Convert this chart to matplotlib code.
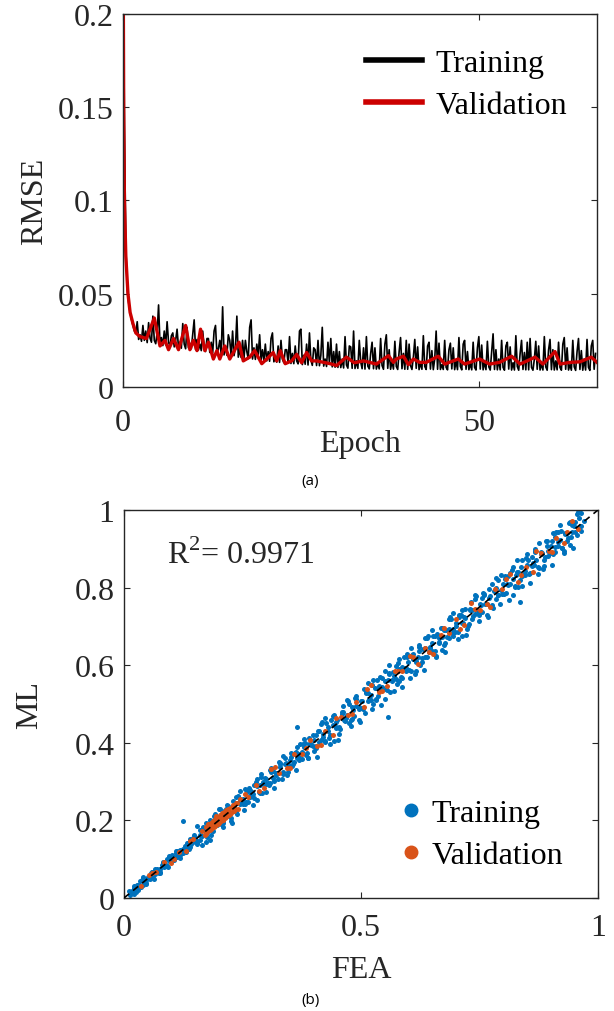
import numpy as np
import matplotlib
matplotlib.use('Agg')
import matplotlib.pyplot as plt
from matplotlib.lines import Line2D
import matplotlib.ticker as ticker

plt.rcParams['font.family'] = ['Liberation Serif', 'DejaVu Serif']
plt.rcParams['mathtext.fontset'] = 'custom'
plt.rcParams['mathtext.rm'] = 'Liberation Serif'

# ---------------- (a) training history ----------------
iters_per_epoch = 5
# training RMSE per iteration, in units of 1e-4 (one row per epoch)
train_rmse_e4 = [
    2600, 1400, 760, 520, 450,
    400, 360, 330, 300, 290,
    350, 255, 280, 245, 330,
    250, 300, 238, 345, 262,
    240, 380, 250, 232, 290,
    440, 228, 265, 222, 300,
    226, 350, 240, 218, 275,
    290, 215, 250, 310, 212,
    240, 208, 340, 230, 205,
    320, 210, 235, 205, 280,
    360, 200, 255, 198, 230,
    195, 300, 215, 190, 260,
    260, 185, 240, 182, 300,
    330, 178, 205, 250, 175,
    430, 172, 220, 170, 280,
    250, 166, 300, 168, 210,
    380, 160, 200, 158, 250,
    155, 250, 190, 152, 320,
    360, 150, 210, 148, 230,
    170, 280, 145, 200, 142,
    230, 140, 190, 138, 260,
    290, 135, 160, 133, 220,
    132, 250, 150, 130, 200,
    200, 128, 270, 126, 180,
    125, 220, 140, 124, 300,
    310, 120, 170, 122, 230,
    118, 290, 145, 116, 210,
    200, 115, 250, 114, 170,
    320, 112, 150, 110, 240,
    130, 260, 108, 190, 106,
    230, 105, 190, 104, 150,
    102, 270, 118, 101, 220,
    215, 100, 300, 99, 140,
    100, 250, 135, 98, 210,
    96, 270, 112, 97, 180,
    240, 98, 210, 96, 130,
    97, 260, 115, 95, 230,
    280, 100, 200, 95, 140,
    96, 245, 110, 94, 190,
    265, 98, 180, 95, 250,
    95, 230, 115, 94, 160,
    255, 100, 215, 93, 130,
    95, 275, 110, 94, 220,
    240, 96, 195, 93, 150,
    300, 95, 235, 94, 120,
    94, 250, 105, 92, 200,
    235, 97, 210, 93, 140,
    93, 265, 110, 92, 230,
    250, 95, 190, 93, 125,
    92, 240, 105, 91, 210,
    270, 96, 225, 92, 135,
    93, 245, 108, 91, 190,
    285, 94, 200, 92, 150,
    92, 250, 105, 90, 220,
    240, 96, 215, 91, 130,
    91, 275, 110, 90, 180,
    250, 94, 185, 92, 240,
    92, 260, 105, 90, 150,
    245, 95, 220, 91, 125,
    91, 270, 108, 90, 200,
    255, 93, 200, 91, 140,
    92, 240, 105, 90, 230,
    265, 95, 210, 91, 120,
    90, 250, 108, 89, 190,
    260, 94, 195, 90, 150,
    91, 255, 105, 89, 220,
    250, 95, 180]

val_epoch = [0, 0.1, 0.2, 0.4, 0.7, 1.0, 1.4, 1.8, 2.4, 3.3, 4.4, 5.2, 5.9, 6.4,
             7.1, 7.8, 8.8, 9.4, 9.9, 10.4, 10.9, 11.5, 12.0, 12.7, 13.2, 13.6,
             14.3, 15.0, 16.3, 16.9, 17.8, 18.5, 19.5, 20.2, 21.1, 21.6, 22.1,
             22.8, 23.7, 24.4, 25.1, 25.8, 26.5, 27.2, 29.1, 30.0, 31.4, 32.5,
             33.8, 35.6, 37.3, 38.0, 38.4, 39.4, 40.1, 40.8, 41.7, 42.6, 44.3,
             45.2, 47.1, 48.0, 50.1, 51.5, 52.9, 54.6, 55.8, 57.9, 59.0, 60.7,
             61.4, 62.8, 64.2, 65.8, 66.6]
val_rmse = [0.26, 0.15, 0.10, 0.07, 0.05, 0.04, 0.034, 0.029, 0.027, 0.026, 0.037,
            0.022, 0.025, 0.020, 0.026, 0.020, 0.033, 0.020, 0.025, 0.0195, 0.031,
            0.0195, 0.024, 0.015, 0.0195, 0.015, 0.022, 0.015, 0.024, 0.014, 0.016,
            0.0195, 0.0125, 0.015, 0.0185, 0.014, 0.0195, 0.0125, 0.014, 0.0175,
            0.013, 0.0185, 0.014, 0.014, 0.0125, 0.0115, 0.016, 0.013, 0.014,
            0.0123, 0.0168, 0.0132, 0.015, 0.0165, 0.012, 0.015, 0.0132, 0.0132,
            0.0165, 0.0123, 0.015, 0.0123, 0.015, 0.0123, 0.0132, 0.0165, 0.0123,
            0.016, 0.0123, 0.019, 0.0123, 0.0132, 0.0135, 0.016, 0.0132]

# ---------------- (b) ML vs FEA, values in thousandths ----------------
train_fea = [
    10, 15, 20, 25, 30, 35, 40, 45, 50, 55, 60, 65, 70, 75, 80, 85, 90, 95, 100, 105,
    110, 115, 120, 125, 130, 135, 140, 145, 150, 155, 160, 165, 170, 175, 180, 185,
    190, 195, 200, 205, 210, 215, 220, 225, 230, 235, 240, 245, 250, 255, 260, 265,
    270, 275, 280, 285, 290, 295, 300, 305, 310, 315, 320, 325, 330, 335, 340, 345,
    350, 355, 360, 365, 370, 375, 380, 385, 390, 395, 400, 405, 410, 415, 420, 425,
    430, 435, 440, 445, 450, 455, 460, 465, 470, 475, 480, 485, 490, 495, 500, 505,
    510, 515, 520, 525, 530, 535, 540, 545, 550, 555, 560, 565, 570, 575, 580, 585,
    590, 595, 600, 605, 610, 615, 620, 625, 630, 635, 640, 645, 650, 655, 660, 665,
    670, 675, 680, 685, 690, 695, 700, 705, 710, 715, 720, 725, 730, 735, 740, 745,
    750, 755, 760, 765, 770, 775, 780, 785, 790, 795, 800, 805, 810, 815, 820, 825,
    830, 835, 840, 845, 850, 855, 860, 865, 870, 875, 880, 885, 890, 895, 900, 905,
    910, 915, 920, 925, 930, 935, 940, 945, 950, 955, 960, 965, 970,
    13, 20, 27, 34, 41, 48, 55, 62, 69, 76, 83, 90, 97, 104, 111, 118, 125, 132, 139,
    146, 153, 160, 167, 174, 181, 188, 195, 202, 209, 216, 223, 230, 237, 244, 251,
    258, 265, 272, 279, 286, 293, 300, 307, 314, 321, 328, 335, 342, 349, 356, 363,
    370, 377, 384, 391, 398, 405, 412, 419, 426, 433, 440, 447, 454, 461, 468, 475,
    482, 489, 496, 503, 510, 517, 524, 531, 538, 545, 552, 559, 566, 573, 580, 587,
    594, 601, 608, 615, 622, 629, 636, 643, 650, 657, 664, 671, 678, 685, 692, 699,
    706, 713, 720, 727, 734, 741, 748, 755, 762, 769, 776, 783, 790, 797, 804, 811,
    818, 825, 832, 839, 846, 853, 860, 867, 874, 881, 888, 895, 902, 909, 916, 923,
    930, 937, 944, 951, 958, 965,
    16, 22, 28, 34, 40, 46, 52, 58, 64, 70, 76, 82, 88, 94, 100, 106, 112, 118, 124,
    130, 136, 142, 148, 154, 160, 166, 172, 178, 184, 190, 196, 202, 208, 214, 220,
    226, 232, 238, 244, 250, 256, 262, 268, 274, 280, 286, 292, 298, 304, 310, 316,
    322, 328, 334, 340, 346, 352, 358, 364, 370, 376, 382, 388, 394, 400, 406, 412,
    418, 424, 430, 436, 442, 448, 454, 460, 466, 472, 478, 484, 490, 496, 502, 508,
    514, 520, 526, 532, 538, 544, 550, 556, 562, 568, 574, 580, 586, 592, 598, 604,
    610, 616, 622, 628, 634, 640, 646, 652, 658, 664, 670, 676, 682, 688, 694, 700,
    706, 712, 718, 724, 730, 736, 742, 748, 754, 760, 766, 772, 778, 784, 790, 796,
    802, 808, 814, 820, 826, 832, 838, 844, 850, 856, 862, 868, 874, 880, 886, 892,
    898, 904, 910, 916, 922, 928, 934, 940, 946, 952, 958, 964,
    20, 29, 38, 47, 56, 65, 74, 83, 92, 101, 110, 119, 128, 137, 146, 155, 164, 173,
    182, 191, 200, 209, 218, 227, 236, 245, 254, 263, 272, 281, 290, 299, 308, 317,
    326, 335, 344, 353, 362, 371, 380, 389, 398, 407, 416, 425, 434, 443, 452, 461,
    470, 479, 488, 497, 506, 515, 524, 533, 542, 551, 560, 569, 578, 587, 596, 605,
    614, 623, 632, 641, 650, 659, 668, 677, 686, 695, 704, 713, 722, 731, 740, 749,
    758, 767, 776, 785, 794, 803, 812, 821, 830, 839, 848, 857, 866, 875, 884, 893,
    902, 911, 920, 929, 938, 947, 956,
    125, 365, 557, 835]
train_ml = [
    17, 13, 21, 16, 34, 29, 51, 44, 53, 48, 67, 63, 71, 66, 84, 79, 101, 94, 103, 98,
    117, 113, 121, 116, 134, 129, 151, 144, 156, 141, 174, 160, 172, 157, 188, 174,
    212, 193, 206, 191, 224, 210, 222, 207, 238, 224, 262, 243, 256, 241, 274, 260,
    272, 257, 288, 274, 312, 293, 306, 291, 324, 310, 322, 307, 338, 324, 362, 343,
    356, 341, 374, 360, 372, 357, 388, 374, 412, 393, 406, 386, 430, 408, 422, 401,
    441, 420, 470, 443, 458, 436, 480, 458, 472, 451, 491, 470, 520, 493, 508, 486,
    530, 508, 522, 501, 541, 520, 570, 543, 558, 536, 580, 558, 572, 551, 591, 570,
    620, 593, 608, 586, 630, 608, 622, 601, 641, 620, 670, 643, 658, 636, 680, 658,
    672, 651, 691, 670, 720, 693, 708, 686, 730, 708, 722, 701, 741, 720, 770, 743,
    758, 736, 780, 758, 772, 751, 791, 770, 820, 793, 808, 786, 830, 808, 822, 801,
    841, 820, 870, 843, 858, 836, 880, 858, 872, 851, 891, 870, 920, 893, 908, 886,
    930, 908, 922, 901, 941, 920, 970, 943, 958, 936, 980, 958, 972,
    8, 26, 25, 44, 33, 50, 51, 57, 75, 74, 93, 82, 99, 100, 106, 124, 123, 142, 131,
    148, 146, 150, 180, 171, 200, 172, 200, 195, 199, 229, 220, 249, 221, 249, 244,
    248, 278, 269, 298, 270, 298, 293, 297, 327, 318, 347, 319, 347, 342, 346, 376,
    367, 396, 368, 396, 391, 392, 430, 415, 452, 411, 447, 437, 441, 479, 464, 501,
    460, 496, 486, 490, 528, 513, 550, 509, 545, 535, 539, 577, 562, 599, 558, 594,
    584, 588, 626, 611, 648, 607, 643, 633, 637, 675, 660, 697, 656, 692, 682, 686,
    724, 709, 746, 705, 741, 731, 735, 773, 758, 795, 754, 790, 780, 784, 822, 807,
    844, 803, 839, 829, 833, 871, 856, 893, 852, 888, 878, 882, 920, 905, 942, 901,
    937, 927, 931, 969, 954, 991,
    18, 11, 34, 30, 53, 39, 52, 66, 50, 72, 65, 88, 84, 107, 93, 106, 120, 104, 126,
    119, 142, 138, 161, 140, 161, 183, 144, 182, 162, 201, 189, 228, 194, 215, 237,
    198, 236, 216, 255, 243, 282, 248, 269, 291, 252, 290, 270, 309, 297, 336, 302,
    323, 345, 306, 344, 324, 363, 351, 390, 356, 377, 399, 360, 398, 378, 421, 402,
    454, 405, 431, 459, 404, 454, 423, 475, 456, 508, 459, 485, 513, 458, 508, 477,
    529, 510, 562, 513, 539, 567, 512, 562, 531, 583, 564, 616, 567, 593, 621, 566,
    616, 585, 637, 618, 670, 621, 647, 675, 620, 670, 639, 691, 672, 724, 675, 701,
    729, 674, 724, 693, 745, 726, 778, 729, 755, 783, 728, 778, 747, 799, 780, 832,
    783, 809, 837, 782, 832, 801, 853, 834, 886, 837, 863, 891, 836, 886, 855, 907,
    888, 940, 891, 917, 945, 890, 940, 909, 961, 942, 994, 945,
    30, 20, 45, 35, 65, 75, 65, 90, 80, 110, 120, 110, 135, 125, 155, 185, 137, 194,
    149, 216, 230, 182, 239, 194, 261, 275, 227, 284, 239, 306, 320, 272, 329, 284,
    351, 365, 317, 374, 329, 396, 410, 362, 419, 363, 449, 465, 398, 471, 408, 494,
    510, 443, 516, 453, 539, 555, 488, 561, 498, 584, 600, 533, 606, 543, 629, 645,
    578, 651, 588, 674, 690, 623, 696, 633, 719, 735, 668, 741, 678, 764, 780, 713,
    786, 723, 809, 825, 758, 831, 768, 854, 870, 803, 876, 813, 899, 915, 848, 921,
    858, 944, 960, 893, 966, 903, 989,
    198, 440, 466, 763]

val_fea = [
    170, 173, 176, 178, 181, 183, 185, 187, 189, 191, 193, 195, 197, 199, 201, 203,
    205, 207, 209, 211, 213, 215, 217, 219, 221, 223, 226, 229, 232, 236, 240, 245,
    180, 195, 210,
    165, 172, 179, 184, 188, 192, 196, 200, 204, 208, 212, 216, 220, 224, 228, 234,
    238, 186, 198, 206,
    35, 52, 68, 84, 99, 115, 131, 146, 262, 278, 295, 311, 327, 343, 359, 375, 392,
    408, 424, 441, 457, 473, 489, 506, 522, 538, 555, 571, 587, 603, 620, 636, 652,
    668, 685, 701, 717, 733, 750, 766, 782, 798, 815, 831, 847, 863, 880, 896, 912,
    929, 945, 958,
    255, 285, 318, 350, 383, 415, 448, 480, 513, 545, 578, 610, 643, 675, 708, 740,
    773, 805, 838, 870, 903, 935, 60, 105, 140]
val_ml = [
    163, 182, 170, 190, 176, 192, 180, 199, 183, 204, 187, 210, 192, 206, 195, 214,
    198, 218, 202, 222, 205, 226, 210, 230, 214, 233, 218, 240, 224, 246, 230, 256,
    186, 199, 212,
    172, 166, 187, 178, 195, 186, 201, 193, 211, 200, 217, 209, 225, 217, 233, 228,
    244, 193, 190, 214,
    31, 58, 66, 93, 91, 118, 121, 151, 261, 292, 284, 333, 322, 336, 370, 372, 408,
    391, 431, 419, 467, 472, 506, 493, 548, 531, 546, 584, 584, 623, 603, 643, 630,
    678, 684, 718, 704, 759, 743, 757, 795, 795, 835, 814, 854, 841, 890, 895, 929,
    916, 971, 951,
    267, 276, 338, 335, 387, 393, 464, 475, 538, 533, 586, 622, 634, 695, 693, 744,
    751, 821, 833, 895, 891, 943, 65, 101, 146]

r2_text = r'$\mathrm{R}^2$= 0.9971'

axis_col = '#262626'
fs = 23

fig = plt.figure(figsize=(6.14, 10.12), dpi=100)


def style_axes(ax):
    for side in ['top', 'bottom', 'left', 'right']:
        ax.spines[side].set_linewidth(1.0)
        ax.spines[side].set_color(axis_col)
    ax.tick_params(direction='in', length=4, width=0.8, colors=axis_col,
                   top=True, right=True, labelsize=fs)


# (a)
ax1 = fig.add_axes([0.2003, 0.6166, 0.772, 0.3686])
train_rmse = np.array(train_rmse_e4) * 1e-4
train_epoch = np.arange(len(train_rmse)) / iters_per_epoch
ax1.plot(train_epoch, train_rmse, color='black', linewidth=1.2)
ax1.plot(val_epoch, val_rmse, color='#CC0000', linewidth=2.4)
ax1.set_xlim(0, 66.6)
ax1.set_ylim(0, 0.2)
ax1.set_xticks([0, 50])
ax1.set_yticks([0, 0.05, 0.1, 0.15, 0.2])
ax1.yaxis.set_major_formatter(ticker.FormatStrFormatter('%g'))
style_axes(ax1)
ax1.tick_params(axis='x', pad=15)
ax1.tick_params(axis='y', pad=7)
ax1.set_xlabel('Epoch', fontsize=fs, color=axis_col, labelpad=-6)
ax1.set_ylabel('RMSE', fontsize=fs, color=axis_col, labelpad=6)
h1 = [Line2D([], [], color='black', linewidth=4),
      Line2D([], [], color='#CC0000', linewidth=4)]
ax1.legend(h1, ['Training', 'Validation'], loc='upper left', bbox_to_anchor=(0.48, 0.95),
           frameon=False, fontsize=fs, handlelength=1.75, handletextpad=0.4,
           labelspacing=0.4, borderpad=0)

# (b)
ax2 = fig.add_axes([0.2020, 0.1117, 0.772, 0.3834])
ax2.scatter(np.array(train_fea) / 1000, np.array(train_ml) / 1000, s=13,
            color='#0072BD', linewidths=0, zorder=2)
ax2.scatter(np.array(val_fea) / 1000, np.array(val_ml) / 1000, s=13,
            color='#D95319', linewidths=0, zorder=3)
ax2.plot([0, 1], [0, 1], color='black', linestyle='--', dashes=(4, 3),
         linewidth=1.2, zorder=4)
ax2.set_xlim(0, 1)
ax2.set_ylim(0, 1)
ax2.set_xticks([0, 0.5, 1])
ax2.set_yticks([0, 0.2, 0.4, 0.6, 0.8, 1])
ax2.xaxis.set_major_formatter(ticker.FormatStrFormatter('%g'))
ax2.yaxis.set_major_formatter(ticker.FormatStrFormatter('%g'))
style_axes(ax2)
ax2.tick_params(axis='x', pad=11)
ax2.tick_params(axis='y', pad=7)
ax2.set_xlabel('FEA', fontsize=fs, color=axis_col, labelpad=9)
ax2.set_ylabel('ML', fontsize=fs, color=axis_col, labelpad=22)
ax2.text(0.09, 0.885, r2_text, transform=ax2.transAxes, fontsize=fs,
         color=axis_col, va='center')
h2 = [Line2D([], [], color='#0072BD', marker='o', linestyle='none', markersize=9),
      Line2D([], [], color='#D95319', marker='o', linestyle='none', markersize=9)]
ax2.legend(h2, ['Training', 'Validation'], loc='lower left', bbox_to_anchor=(0.538, 0.03),
           frameon=False, fontsize=fs, handlelength=1.0, handletextpad=0.15,
           labelspacing=0.4, borderpad=0)

# panel labels
fig.text(0.505, 0.524, '(a)', fontsize=11, family='Open Sans', ha='center', va='center')
fig.text(0.505, 0.011, '(b)', fontsize=11, family='Open Sans', ha='center', va='center')

plt.savefig('out.png', dpi=100)
